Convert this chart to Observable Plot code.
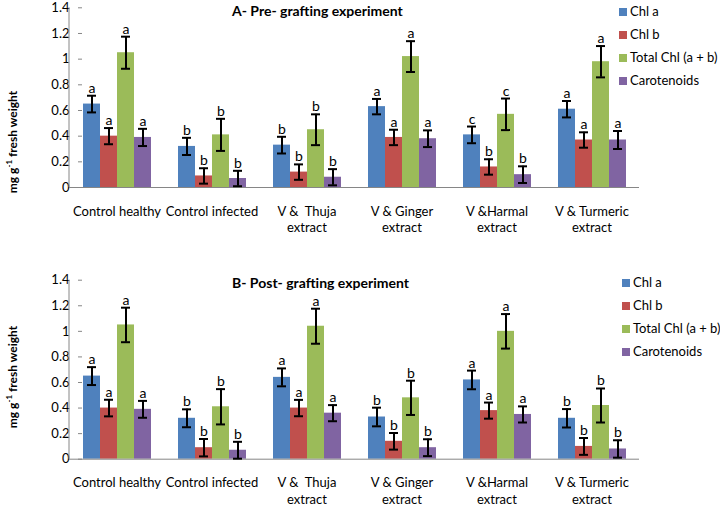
<!DOCTYPE html>
<html>
<head>
<meta charset="utf-8">
<script src="https://cdn.jsdelivr.net/npm/d3@7"></script>
<script src="https://cdn.jsdelivr.net/npm/@observablehq/plot@0.6"></script>
<style>
  html, body { margin: 0; padding: 0; background: #fff; }
  #wrap { position: relative; width: 720px; height: 507px; font-family: Lato, "Open Sans", sans-serif; color: #000; overflow: hidden; }
  #wrap svg { display: block; }
  .title { position: absolute; font-weight: bold; font-size: 14px; white-space: nowrap; line-height: 1; }
  .legend { position: absolute; font-size: 13px; line-height: 23px; }
  .legend .row { display: flex; align-items: center; white-space: nowrap; }
  .legend .sw { width: 8px; height: 8px; margin-right: 3px; }
  .ylab { position: absolute; font-weight: bold; font-size: 12px; white-space: nowrap; transform: translate(-50%, -50%) rotate(-90deg); }
  .ylab sup { font-size: 8px; }
</style>
</head>
<body>
<div id="wrap"></div>
<script>
// ---- data ----
const groups = ["Control healthy", "Control infected", "V &  Thuja extract", "V & Ginger extract", "V &Harmal extract", "V & Turmeric extract"];
const groupLabels = ["Control healthy", "Control infected", "V &  Thuja\nextract", "V & Ginger\nextract", "V &Harmal\nextract", "V & Turmeric\nextract"];
const series = ["Chl a", "Chl b", "Total Chl (a + b)", "Carotenoids"];
const colors = ["#4F81BD", "#C0504D", "#9BBB59", "#8064A2"];
const yTicks = [0, 0.2, 0.4, 0.6, 0.8, 1, 1.2, 1.4];

const titleA = "A- Pre- grafting experiment";
const titleB = "B- Post- grafting experiment";

// A: pre-grafting
const preChlA = [0.65, 0.32, 0.33, 0.63, 0.41, 0.61];
const preChlB = [0.40, 0.09, 0.12, 0.39, 0.16, 0.37];
const preTotal = [1.05, 0.41, 0.45, 1.02, 0.57, 0.98];
const preCar = [0.39, 0.07, 0.08, 0.38, 0.10, 0.37];
const preErrChlA = [0.065, 0.067, 0.065, 0.060, 0.065, 0.064];
const preErrChlB = [0.063, 0.060, 0.060, 0.060, 0.060, 0.060];
const preErrTotal = [0.125, 0.125, 0.120, 0.120, 0.123, 0.122];
const preErrCar = [0.067, 0.060, 0.063, 0.065, 0.065, 0.070];
const preLetChlA = ["a", "b", "b", "a", "c", "a"];
const preLetChlB = ["a", "b", "b", "a", "b", "a"];
const preLetTotal = ["a", "b", "b", "a", "c", "a"];
const preLetCar = ["a", "b", "b", "a", "b", "a"];

// B: post-grafting
const postChlA = [0.65, 0.32, 0.64, 0.33, 0.62, 0.32];
const postChlB = [0.40, 0.09, 0.40, 0.14, 0.38, 0.10];
const postTotal = [1.05, 0.41, 1.04, 0.48, 1.00, 0.42];
const postCar = [0.39, 0.07, 0.36, 0.09, 0.35, 0.08];
const postErrChlA = [0.070, 0.070, 0.070, 0.073, 0.073, 0.072];
const postErrChlB = [0.065, 0.068, 0.064, 0.065, 0.063, 0.066];
const postErrTotal = [0.135, 0.138, 0.137, 0.134, 0.135, 0.133];
const postErrCar = [0.066, 0.066, 0.063, 0.066, 0.063, 0.068];
const postLetChlA = ["a", "b", "a", "b", "a", "b"];
const postLetChlB = ["a", "b", "a", "b", "a", "b"];
const postLetTotal = ["a", "b", "a", "b", "a", "b"];
const postLetCar = ["a", "b", "a", "b", "a", "b"];

// ---- build ----
function rows(vals, errs, lets) {
  const out = [];
  groups.forEach((g, j) => {
    series.forEach((s, i) => {
      out.push({group: g, series: s, value: vals[i][j], err: errs[i][j], letter: lets[i][j]});
    });
  });
  return out;
}

const FONT = "Lato, 'Open Sans', sans-serif";
const labelOf = new Map(groups.map((g, i) => [g, groupLabels[i]]));

function panel(data, height, marginTop, marginBottom) {
  const lo = d => d.value - d.err;
  const hi = d => d.value + d.err;
  const chart = Plot.plot({
    width: 720,
    height,
    marginLeft: 69,
    marginRight: 81,
    marginTop,
    marginBottom,
    style: {fontFamily: FONT, fontSize: "13px", color: "#000", background: "transparent", overflow: "visible"},
    fx: {domain: groups, paddingInner: 0.274, paddingOuter: 0.137, axis: null, label: null},
    x: {domain: series, padding: 0, axis: null},
    y: {domain: [0, 1.4], ticks: yTicks, tickFormat: d => String(d), label: null, tickSize: 4, tickPadding: 9},
    color: {domain: series, range: colors},
    marks: [
      Plot.barY(data, {fx: "group", x: "series", y: "value", fill: "series"}),
      Plot.ruleY([0], {stroke: "#868686", strokeWidth: 1, insetLeft: -13, insetRight: -13}),
      Plot.ruleX(data, {fx: "group", x: "series", y1: lo, y2: hi, stroke: "#000", strokeWidth: 2}),
      Plot.tickY(data, {fx: "group", x: "series", y: lo, stroke: "#000", strokeWidth: 2, insetLeft: 4, insetRight: 4}),
      Plot.tickY(data, {fx: "group", x: "series", y: hi, stroke: "#000", strokeWidth: 2, insetLeft: 4, insetRight: 4}),
      Plot.text(data, {fx: "group", x: "series", y: hi, text: "letter", dy: -3, lineAnchor: "bottom", fontSize: 14}),
      Plot.text(groups, {fx: d => d, text: d => labelOf.get(d), frameAnchor: "bottom", lineAnchor: "top", dy: 16, lineHeight: 1.3, fontSize: 13})
    ]
  });
  // y axis line + tick colour
  const sy = chart.scale("y");
  const yl = d3.scaleLinear(sy.domain, sy.range);
  d3.select(chart).append("line")
    .attr("x1", 69).attr("x2", 69)
    .attr("y1", yl(0)).attr("y2", yl(1.4))
    .attr("stroke", "#868686");
  d3.select(chart).selectAll('[aria-label^="y-axis"] line, [aria-label^="y-axis"] path').attr("stroke", "#868686");
  return chart;
}

const wrap = document.getElementById("wrap");

function addPanel(data, top, height, mt, mb, title, titlePos, legendPos, ylabY) {
  const holder = document.createElement("div");
  holder.style.position = "absolute";
  holder.style.left = "0px";
  holder.style.top = top + "px";
  holder.appendChild(panel(data, height, mt, mb));
  wrap.appendChild(holder);

  const t = document.createElement("div");
  t.className = "title";
  t.textContent = title;
  t.style.left = titlePos[0] + "px";
  t.style.top = titlePos[1] + "px";
  wrap.appendChild(t);

  const lg = document.createElement("div");
  lg.className = "legend";
  lg.style.left = legendPos[0] + "px";
  lg.style.top = legendPos[1] + "px";
  series.forEach((s, i) => {
    const r = document.createElement("div");
    r.className = "row";
    const sw = document.createElement("span");
    sw.className = "sw";
    sw.style.background = colors[i];
    const tx = document.createElement("span");
    tx.textContent = s;
    r.appendChild(sw); r.appendChild(tx);
    lg.appendChild(r);
  });
  wrap.appendChild(lg);

  const yl = document.createElement("div");
  yl.className = "ylab";
  yl.innerHTML = "mg g<sup>-1</sup> fresh weight";
  yl.style.left = "12px";
  yl.style.top = ylabY + "px";
  wrap.appendChild(yl);
}

const preData = rows([preChlA, preChlB, preTotal, preCar], [preErrChlA, preErrChlB, preErrTotal, preErrCar], [preLetChlA, preLetChlB, preLetTotal, preLetCar]);
const postData = rows([postChlA, postChlB, postTotal, postCar], [postErrChlA, postErrChlB, postErrTotal, postErrCar], [postLetChlA, postLetChlB, postLetTotal, postLetCar]);

addPanel(preData, 0, 255, 7.3, 68, titleA, [232, 4], [619, 0], 142);
addPanel(postData, 255, 252, 24.7, 48.3, titleB, [232, 276], [622, 271], 377);
</script>
</body>
</html>
